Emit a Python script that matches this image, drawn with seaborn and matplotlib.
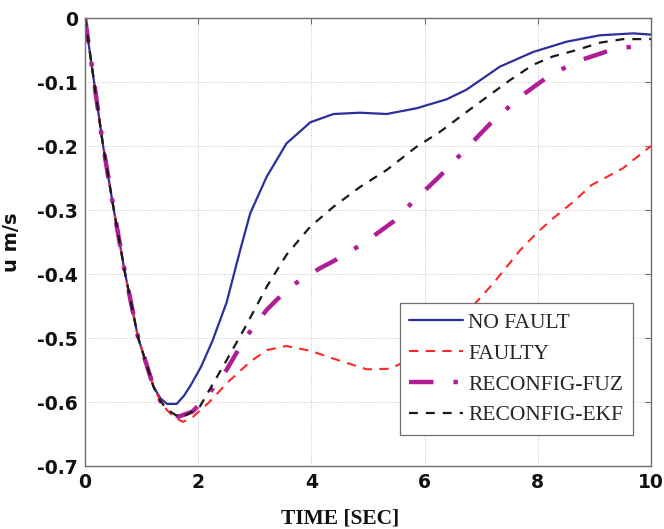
import matplotlib
matplotlib.use("Agg")
import matplotlib.pyplot as plt
import seaborn as sns
import pandas as pd

# ---------------- data ----------------
t_nofault = [0, 0.16, 0.32, 0.51, 0.71, 0.94, 1.10, 1.21, 1.33, 1.45, 1.62, 1.75, 1.86,
             2.05, 2.25, 2.50, 2.75, 2.92, 3.21, 3.56, 3.98, 4.39, 4.86, 5.33, 5.86,
             6.39, 6.74, 7.33, 7.92, 8.51, 9.10, 9.69, 10.0]
u_nofault = [0, -0.10, -0.20, -0.30, -0.40, -0.50, -0.545, -0.576, -0.594, -0.603, -0.603,
             -0.590, -0.575, -0.545, -0.505, -0.445, -0.360, -0.305, -0.248, -0.196,
             -0.163, -0.150, -0.148, -0.150, -0.141, -0.127, -0.112, -0.076, -0.053,
             -0.037, -0.027, -0.024, -0.026]

t_faulty = [0, 0.16, 0.32, 0.51, 0.71, 0.94, 1.10, 1.21, 1.33, 1.45, 1.60, 1.73, 1.91,
            2.20, 2.50, 2.92, 3.21, 3.56, 3.98, 4.45, 4.98, 5.40, 5.80, 6.30, 6.80,
            7.21, 7.69, 7.98, 8.27, 8.63, 8.95, 9.50, 10.0]
u_faulty = [0, -0.10, -0.20, -0.30, -0.40, -0.50, -0.545, -0.576, -0.598, -0.613, -0.625,
            -0.631, -0.623, -0.600, -0.571, -0.537, -0.519, -0.5125, -0.520, -0.534,
            -0.549, -0.548, -0.530, -0.497, -0.455, -0.415, -0.3625, -0.336, -0.313,
            -0.287, -0.261, -0.235, -0.200]

t_fuz = [0, 0.16, 0.32, 0.51, 0.71, 0.94, 1.10, 1.21, 1.33, 1.45, 1.65, 1.90, 2.15,
         2.50, 2.83, 3.21, 3.62, 4.15, 4.39, 4.92, 5.45, 5.83, 6.27, 7.16, 7.69, 8.22,
         8.75, 9.33, 9.89, 10.0]
u_fuz = [0, -0.10, -0.20, -0.30, -0.40, -0.50, -0.545, -0.576, -0.598, -0.612, -0.623,
         -0.615, -0.592, -0.550, -0.500, -0.456, -0.420, -0.391, -0.380, -0.352, -0.318,
         -0.284, -0.247, -0.165, -0.123, -0.089, -0.066, -0.049, -0.042, -0.042]

t_ekf = [0, 0.16, 0.32, 0.51, 0.71, 0.94, 1.10, 1.21, 1.33, 1.45, 1.65, 1.80, 2.03,
         2.50, 2.85, 3.21, 3.56, 3.98, 4.39, 4.86, 5.33, 5.86, 6.27, 6.86, 7.51, 7.92,
         8.27, 8.69, 9.10, 9.51, 10.0]
u_ekf = [0, -0.10, -0.20, -0.30, -0.40, -0.50, -0.545, -0.576, -0.598, -0.612, -0.623,
         -0.620, -0.607, -0.535, -0.480, -0.420, -0.370, -0.326, -0.295, -0.264,
         -0.2375, -0.201, -0.178, -0.139, -0.097, -0.073, -0.060, -0.050, -0.0385,
         -0.033, -0.033]

series_names = ["NO FAULT", "FAULTY", "RECONFIG-FUZ", "RECONFIG-EKF"]
x_ticks = [0, 2, 4, 6, 8, 10]
x_tick_labels = ["0", "2", "4", "6", "8", "10"]
y_ticks = [-0.7, -0.6, -0.5, -0.4, -0.3, -0.2, -0.1, 0]
y_tick_labels = ["-0.7", "-0.6", "-0.5", "-0.4", "-0.3", "-0.2", "-0.1", "0"]
x_label = "TIME [SEC]"
y_label = "u m/s"

# ---------------- plot ----------------
sns.set_theme(style="white")
plt.rcParams["font.family"] = ["DejaVu Sans"]
plt.rcParams["axes.unicode_minus"] = False

fig = plt.figure(figsize=(6.64, 5.29), dpi=100)
ax = fig.add_axes([85 / 664, 1 - 466 / 529, (651 - 85) / 664, (466 - 18) / 529])

styles = [
    dict(color="#2b2f9e", lw=1.6, dashes=None),
    dict(color="#ff2626", lw=1.5, dashes=(4.5, 3.5)),
    dict(color="#b01e96", lw=3.2, dashes=(5.5, 4.5, 1.0, 4.5)),
    dict(color="#1a1a1a", lw=1.6, dashes=(4.0, 3.6)),
]
data = [(t_nofault, u_nofault), (t_faulty, u_faulty), (t_fuz, u_fuz), (t_ekf, u_ekf)]
for i in range(4):
    t, u = data[i]
    df = pd.DataFrame({"t": t, "u": u})
    st = styles[i]
    sns.lineplot(data=df, x="t", y="u", ax=ax, color=st["color"], linewidth=st["lw"],
                 label=series_names[i], estimator=None, sort=False)
    line = ax.lines[-1]
    if st["dashes"] is not None:
        line.set_dashes(st["dashes"])
        line.set_dash_capstyle("butt")

ax.set_xlim(0, 10)
ax.set_ylim(-0.7, 0)
ax.set_xticks(x_ticks)
ax.set_xticklabels(x_tick_labels)
ax.set_yticks(y_ticks)
ax.set_yticklabels(y_tick_labels)

ax.grid(True, linestyle=(0, (1, 1.5)), color="#c4c4c4", linewidth=0.7)
for s in ax.spines.values():
    s.set_visible(True)
    s.set_color("#6e6e6e")
    s.set_linewidth(1.0)
ax.tick_params(direction="in", length=4, width=0.8, color="#6e6e6e",
               top=True, right=True, labelsize=13.5, pad=5)
for lab in ax.get_xticklabels() + ax.get_yticklabels():
    lab.set_fontweight("bold")
    lab.set_color("#111111")

ax.set_xlabel(x_label, fontsize=15.5, fontweight="bold", family=["Liberation Serif"],
              color="#111111", labelpad=8)
ax.xaxis.set_label_coords(0.45, -0.094, transform=ax.transAxes)
ax.xaxis.label.set_verticalalignment("top")
ax.set_ylabel(y_label, fontsize=14, fontweight="bold", color="#111111", labelpad=12)

leg = ax.legend(loc="lower right", bbox_to_anchor=(0.968, 0.069), borderaxespad=0,
                prop={"family": "Liberation Serif", "size": 15.5}, frameon=True,
                fancybox=False, handlelength=2.5, handletextpad=0.23,
                labelspacing=0.5, borderpad=0.45)
leg.get_frame().set_edgecolor("#6e6e6e")
leg.get_frame().set_linewidth(0.9)
leg.get_frame().set_facecolor("white")
leg.get_frame().set_alpha(1.0)
for h, st in zip(leg.get_lines(), styles):
    if st["dashes"] is not None:
        h.set_dashes(st["dashes"])

fig.savefig("out.png", dpi=100)
